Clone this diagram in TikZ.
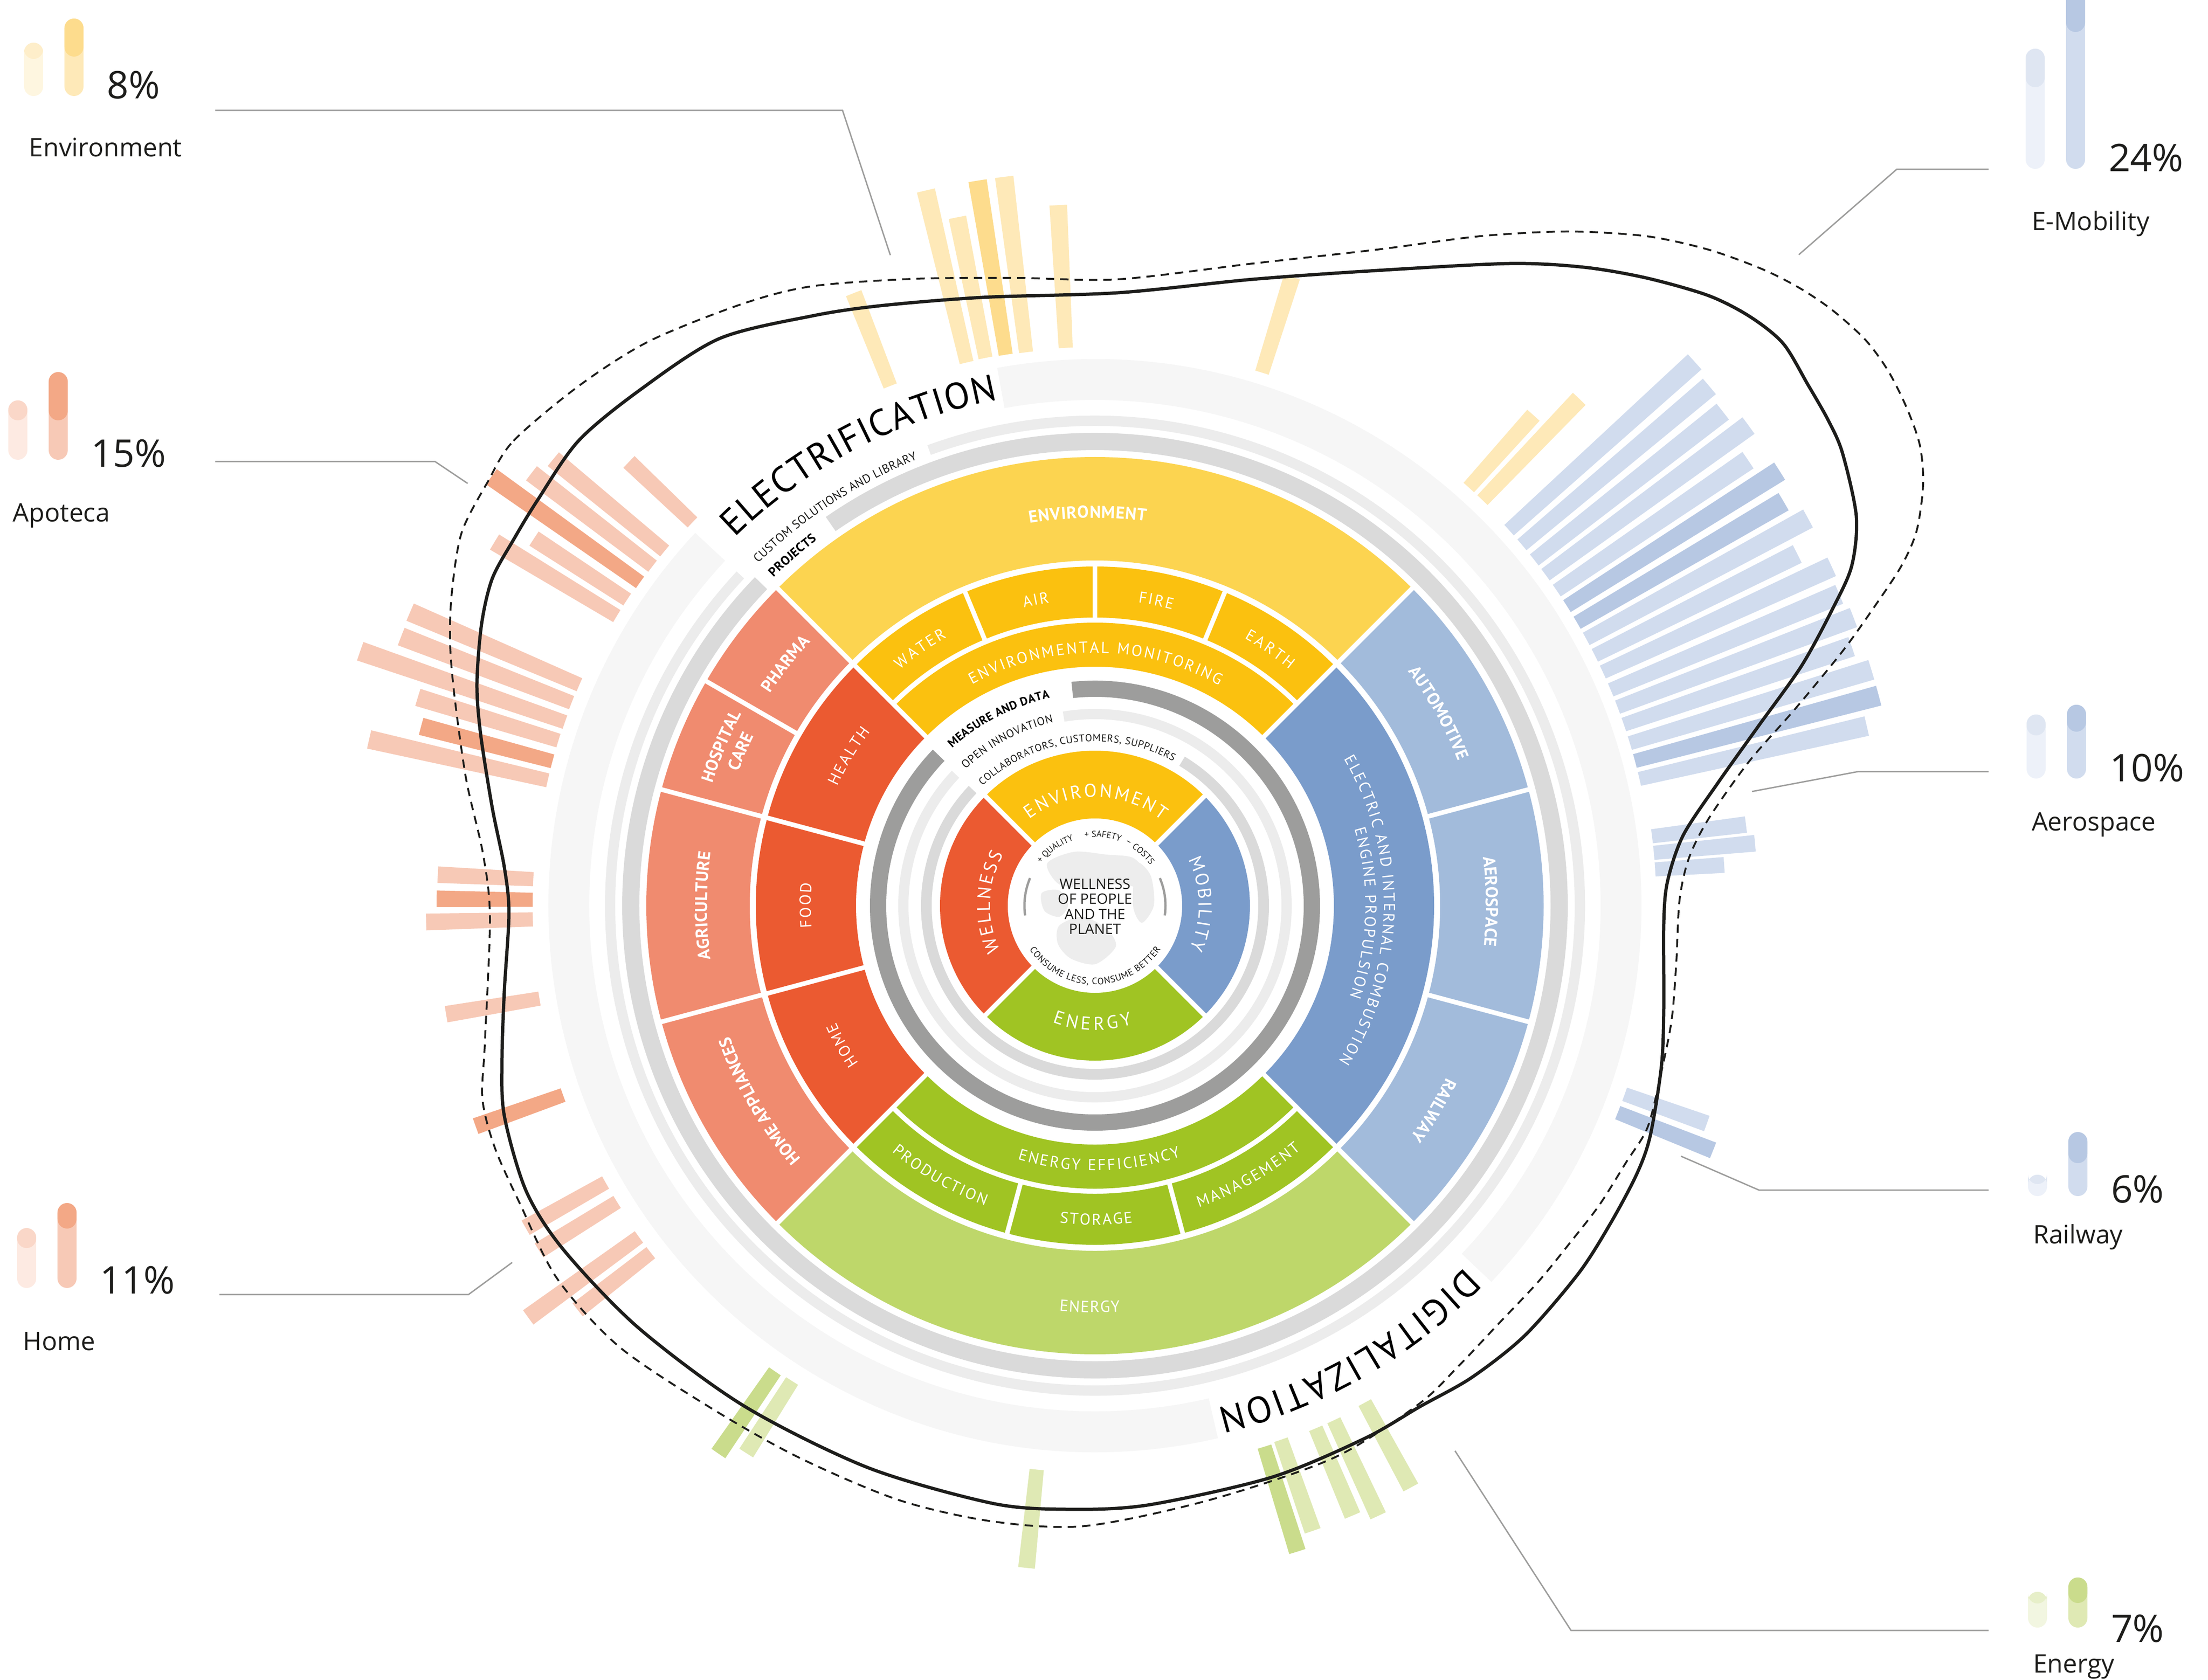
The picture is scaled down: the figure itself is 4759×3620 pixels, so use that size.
\documentclass[tikz,border=0pt]{standalone}
\usepackage{fontspec}
\setmainfont{Open Sans}
\newfontfamily\pts{PT Sans}
\usetikzlibrary{decorations.text}
\definecolor{cYel}{HTML}{FBC10F}
\definecolor{cYelL}{HTML}{FCD450}
\definecolor{cRed}{HTML}{EB5A31}
\definecolor{cRedL}{HTML}{F08B6F}
\definecolor{cBlu}{HTML}{7A9CCB}
\definecolor{cBluL}{HTML}{A2BBDB}
\definecolor{cGrn}{HTML}{A0C423}
\definecolor{cGrnL}{HTML}{BED76A}
\definecolor{gA}{HTML}{F6F6F6}
\definecolor{gB}{HTML}{DADADA}
\definecolor{gC}{HTML}{ECECEC}
\definecolor{gD}{HTML}{9D9D9C}
\definecolor{txt}{HTML}{1D1D1B}
\definecolor{globe}{HTML}{EDEDED}
\definecolor{barY}{HTML}{FEE9B8}
\definecolor{barYd}{HTML}{FDDC8D}
\definecolor{barB}{HTML}{D1DCEE}
\definecolor{barBd}{HTML}{B7C8E3}
\definecolor{barS}{HTML}{F7C9B6}
\definecolor{barSd}{HTML}{F3A886}
\definecolor{barG}{HTML}{DFE9B4}
\definecolor{barGd}{HTML}{CADC8C}
\definecolor{lgYa}{HTML}{FEF6E0}
\definecolor{lgYb}{HTML}{FEEECA}
\definecolor{lgSa}{HTML}{FDEAE2}
\definecolor{lgSb}{HTML}{FAD7C8}
\definecolor{lgBa}{HTML}{EDF1F9}
\definecolor{lgBb}{HTML}{DFE6F2}
\definecolor{lgGa}{HTML}{F2F6E1}
\definecolor{lgGb}{HTML}{E7EFC9}
\newcommand\fInner{\pts\fontsize{4.0}{5}\selectfont}
\newcommand\fMid{\pts\fontsize{3.4}{4}\selectfont}
\newcommand\fOutB{\pts\bfseries\fontsize{3.7}{4}\selectfont}
\newcommand\fOutR{\pts\fontsize{3.5}{4}\selectfont}
\newcommand\fRingB{\pts\bfseries\fontsize{2.55}{3}\selectfont}
\newcommand\fOpen{\pts\fontsize{2.45}{3}\selectfont}
\newcommand\fColl{\pts\fontsize{2.2}{3}\selectfont}
\newcommand\fProj{\pts\bfseries\fontsize{2.75}{3}\selectfont}
\newcommand\fCust{\pts\fontsize{2.6}{3}\selectfont}
\newcommand\fBig{\pts\fontsize{8.0}{9}\selectfont}
\newcommand\fTiny{\pts\fontsize{1.9}{2.5}\selectfont}
\newcommand\fCons{\pts\fontsize{2.0}{2.5}\selectfont}
\newcommand\lgPct{\fontsize{8.2}{9}\selectfont}
\newcommand\lgLab{\fontsize{5.5}{6.5}\selectfont}
\newcommand\ringsector[5]{\fill[#5] (#1:#3) arc[start angle=#1,end angle=#2,radius=#3] -- (#2:#4) arc[start angle=#2,end angle=#1,radius=#4] -- cycle;}
\newcommand\raybar[4]{\pgfmathsetmacro\rbA{#1-0.72}\pgfmathsetmacro\rbB{#1+0.72}\ringsector{\rbA}{\rbB}{#2}{#3}{#4}}
\newcommand\cutline[3]{\draw[white,line width=1pt] (#1:#2) -- (#1:#3);}
\newcommand\arclabel[6]{\pgfmathsetmacro\alC{(#2+#3)/2}\pgfmathsetmacro\alS{\alC-(#3-#2)*0.8}\pgfmathsetmacro\alE{\alC+(#3-#2)*0.8}\path[decorate,decoration={text along path,text align=center,text color=#4,text={|#5|#6}}] (\alS:#1) arc[start angle=\alS,end angle=\alE,radius=#1];}
\newcommand\capsule[6]{\fill[#5,rounded corners=2.05pt] (#1,#2) rectangle ++(41,-#3); \fill[#6,rounded corners=2.05pt] (#1,#2-#3) rectangle ++(41,#4);}
\tikzset{leader/.style={draw=gD,line width=0.3pt},
  pct/.style={anchor=base west,inner sep=0pt,text=txt,font=\lgPct},
  lab/.style={anchor=base west,inner sep=0pt,text=txt,font=\lgLab}}
\begin{document}
\begin{tikzpicture}[x=0.1pt,y=0.1pt]
\useasboundingbox (-2360,-1668) rectangle (2399,1952);
\fill[white] (-2360,-1668) rectangle (2399,1952);
% ---------- radial bars ----------
\raybar{111.5}{1204}{1419}{barY}
\raybar{103.3}{1203}{1584}{barY}
\raybar{101.3}{1204}{1513}{barY}
\raybar{99.2}{1203}{1583}{barYd}
\raybar{97.1}{1202}{1583}{barY}
\raybar{93.0}{1204}{1512}{barY}
\raybar{72.6}{1204}{1420}{barY}
\raybar{48.2}{1209}{1418}{barY}
\raybar{46.3}{1209}{1511}{barY}
\raybar{42.2}{1205}{1745}{barB}
\raybar{40.2}{1205}{1734}{barB}
\raybar{38.2}{1205}{1722}{barB}
\raybar{36.3}{1205}{1748}{barB}
\raybar{34.3}{1205}{1704}{barB}
\raybar{32.4}{1205}{1748}{barBd}
\raybar{30.4}{1205}{1721}{barBd}
\raybar{28.5}{1205}{1749}{barB}
\raybar{26.6}{1205}{1693}{barB}
\raybar{24.7}{1205}{1748}{barB}
\raybar{22.7}{1205}{1739}{barB}
\raybar{20.8}{1205}{1749}{barB}
\raybar{18.9}{1205}{1724}{barB}
\raybar{16.9}{1205}{1749}{barB}
\raybar{15.0}{1205}{1749}{barBd}
\raybar{13.1}{1205}{1708}{barB}
\raybar{7.1}{1210}{1414}{barB}
\raybar{5.4}{1210}{1429}{barB}
\raybar{3.7}{1210}{1359}{barB}
\raybar{-19.6}{1212}{1400}{barB}
\raybar{-21.6}{1212}{1433}{barBd}
\raybar{136.4}{1198}{1387}{barS}
\raybar{140.5}{1202}{1513}{barS}
\raybar{142.5}{1202}{1531}{barS}
\raybar{144.6}{1203}{1596}{barSd}
\raybar{146.8}{1205}{1445}{barS}
\raybar{148.8}{1205}{1513}{barS}
\raybar{156.8}{1209}{1606}{barS}
\raybar{158.8}{1210}{1604}{barS}
\raybar{160.9}{1209}{1676}{barS}
\raybar{162.9}{1210}{1527}{barS}
\raybar{165.1}{1210}{1503}{barSd}
\raybar{167.1}{1210}{1605}{barS}
\raybar{177.3}{1212}{1418}{barS}
\raybar{179.4}{1212}{1419}{barSd}
\raybar{181.4}{1212}{1442}{barS}
\raybar{189.5}{1214}{1418}{barS}
\raybar{199.6}{1217}{1417}{barSd}
\raybar{209.5}{1212}{1410}{barS}
\raybar{211.8}{1212}{1410}{barS}
\raybar{216.0}{1215}{1510}{barS}
\raybar{218.0}{1215}{1415}{barS}
\raybar{235.5}{1218}{1433}{barGd}
\raybar{237.5}{1215}{1399}{barG}
\raybar{264.1}{1222}{1435}{barG}
\raybar{287.4}{1222}{1459}{barGd}
\raybar{289.2}{1219}{1427}{barG}
\raybar{292.9}{1223}{1427}{barG}
\raybar{294.9}{1223}{1450}{barG}
\raybar{298.5}{1219}{1427}{barG}
% ---------- outer grey rings ----------
\ringsector{137}{283}{1090}{1178}{gA}
\ringsector{-43.5}{100.3}{1090}{1178}{gA}
\ringsector{-223}{110}{1034}{1056}{gC}
\ringsector{-224}{124.7}{982}{1019}{gB}
% ---------- outer band ----------
\ringsector{45}{135}{744}{967}{cYelL}
\ringsector{135}{225}{744}{967}{cRedL}
\ringsector{-45}{45}{744}{967}{cBluL}
\ringsector{225}{315}{744}{967}{cGrnL}
\foreach \a in {45,135,225,315,150,165,195,15,-15} {\cutline{\a}{738}{973}}
% ---------- middle band ----------
\ringsector{135}{225}{515}{731}{cRed}
\ringsector{-45}{45}{515}{731}{cBlu}
\ringsector{45}{135}{515}{610}{cYel}
\ringsector{45}{135}{621}{731}{cYel}
\ringsector{225}{315}{515}{610}{cGrn}
\ringsector{225}{315}{621}{731}{cGrn}
\foreach \a in {45,135,225,315,165,195} {\cutline{\a}{509}{737}}
\foreach \a in {67.5,90,112.5,255,285} {\cutline{\a}{616}{737}}
% ---------- inner rings ----------
\ringsector{-223.9}{96}{450}{485}{gD}
\ringsector{-223.3}{99.4}{402}{424}{gC}
\ringsector{-223.5}{58.9}{352}{375}{gB}
% ---------- inner band ----------
\ringsector{45}{135}{188}{334}{cYel}
\ringsector{-45}{45}{188}{334}{cBlu}
\ringsector{225}{315}{188}{334}{cGrn}
\ringsector{135}{225}{188}{334}{cRed}
\foreach \a in {45,135,225,315} {\cutline{\a}{180}{340}}
% ---------- globe ----------
\fill[globe] plot[smooth cycle] coordinates {(-103,91) (-45,116) (25,110) (82,103) (114,65) (101,40) (51,46) (-13,40) (-77,46)};
\fill[globe] plot[smooth cycle] coordinates {(-115,27) (-77,33) (-58,1) (-77,-24) (-109,-11)};
\fill[globe] plot[smooth cycle] coordinates {(-77,-43) (-26,-24) (25,-50) (45,-88) (1,-126) (-52,-114) (-80,-82)};
\fill[globe] plot[smooth cycle] coordinates {(89,91) (120,65) (127,1) (101,-37) (82,1)};
\draw[gD,line width=0.5pt] (157:152) arc[start angle=157,end angle=188,radius=152];
\draw[gD,line width=0.5pt] (-8:152) arc[start angle=-8,end angle=23,radius=152];
\node[align=center,inner sep=0pt,text=txt,font=\fontsize{3.1}{3.25}\selectfont] (core) at (0,-2) {WELLNESS\\OF PEOPLE\\AND THE\\PLANET};
% ---------- labels ----------
\arclabel{148}{143}{107}{txt}{\fTiny}{+ QUALITY}
\arclabel{148}{100}{67}{txt}{\fTiny}{+ SAFETY}
\node[rotate=-28,inner sep=0pt,text=txt,font=\fTiny] (costdash) at (62:153) {–};
\arclabel{148}{58}{36}{txt}{\fTiny}{COSTS}
\arclabel{170}{213}{327}{txt}{\fCons\kern0.1pt}{CONSUME LESS, CONSUME BETTER}
\arclabel{234}{129.4}{50.6}{white}{\fInner\kern0.45pt}{ENVIRONMENT}
\arclabel{224}{27}{-24}{white}{\fInner\kern0.4pt}{MOBILITY}
\arclabel{268}{247}{289}{white}{\fInner\kern0.7pt}{ENERGY}
\arclabel{226}{206}{151}{white}{\fInner\kern0.4pt}{WELLNESS}
\arclabel{354}{134.6}{60.2}{txt}{\fColl\kern0.08pt}{COLLABORATORS, CUSTOMERS, SUPPLIERS}
\arclabel{405}{134.3}{102}{txt}{\fOpen\kern0.08pt}{OPEN INNOVATION}
\arclabel{458}{134}{100.5}{black}{\fRingB\kern0.06pt}{MEASURE AND DATA}
\arclabel{545}{120}{60}{white}{\fMid\kern0.38pt}{ENVIRONMENTAL MONITORING}
\arclabel{660}{130.2}{118.6}{white}{\fMid\kern0.45pt}{WATER}
\arclabel{660}{103.6}{98.5}{white}{\fMid\kern0.3pt}{AIR}
\arclabel{660}{82.1}{75.4}{white}{\fMid\kern0.3pt}{FIRE}
\arclabel{660}{61.2}{50.5}{white}{\fMid\kern0.45pt}{EARTH}
\arclabel{612}{155.4}{142.3}{white}{\fMid\kern0.35pt}{HEALTH}
\arclabel{612}{185}{175.2}{white}{\fMid\kern0.35pt}{FOOD}
\arclabel{612}{213.9}{204.3}{white}{\fMid\kern0.35pt}{HOME}
\arclabel{623}{31}{-32.7}{white}{\fMid\kern0.31pt}{ELECTRIC AND INTERNAL COMBUSTION}
\arclabel{583}{17}{-19.9}{white}{\fMid\kern0.32pt}{ENGINE PROPULSION}
\arclabel{571}{252.6}{289}{white}{\fMid\kern0.36pt}{ENERGY EFFICIENCY}
\arclabel{688}{230}{250.1}{white}{\fMid\kern0.36pt}{PRODUCTION}
\arclabel{688}{263.3}{276.9}{white}{\fMid\kern0.31pt}{STORAGE}
\arclabel{688}{288.3}{310.6}{white}{\fMid\kern0.44pt}{MANAGEMENT}
\arclabel{836}{100.5}{81.6}{white}{\fOutB\kern0.1pt}{ENVIRONMENT}
\arclabel{843}{37.7}{20.9}{white}{\fOutB\kern0.05pt}{AUTOMOTIVE}
\arclabel{843}{7.6}{-6.4}{white}{\fOutB}{AEROSPACE}
\arclabel{843}{-25.8}{-36.5}{white}{\fOutB}{RAILWAY}
\arclabel{836}{147.4}{136.6}{white}{\fOutB}{PHARMA}
\arclabel{866}{162.9}{150.9}{white}{\fOutB}{HOSPITAL}
\arclabel{821}{159.4}{153.5}{white}{\fOutB}{CARE}
\arclabel{836}{188.6}{171.4}{white}{\fOutB\kern0.05pt}{AGRICULTURE}
\arclabel{836}{222}{198.4}{white}{\fOutB}{HOME APPLIANCES}
\arclabel{877}{264.8}{273.6}{white}{\fOutR\kern0.17pt}{ENERGY}
\arclabel{990}{134.6}{127}{black}{\fProj\kern0.05pt}{PROJECTS}
\arclabel{1035}{134.6}{111.6}{txt}{\fCust\kern0.05pt}{CUSTOM SOLUTIONS AND LIBRARY}
\arclabel{1110}{134.5}{100.8}{black}{\fBig\kern0.2pt}{ELECTRIFICATION}
\arclabel{1115}{-44}{-76.5}{black}{\fBig\kern0.4pt}{DIGITALIZATION}
% ---------- curves, leaders, legends (image coordinates) ----------
\begin{scope}[shift={(-2360,1952)},yscale=-1]
\draw[txt,line width=0.7pt] plot[smooth cycle] coordinates {(1158,1079) (1247,950) (1380,840) (1550,730) (1750,681) (1897,659) (2117,641) (2410,631) (2700,602) (2968,583) (3254,568) (3414,576) (3548,599) (3682,637) (3771,682) (3843,740) (3896,828) (3940,905) (3971,976) (4001,1113) (3991,1220) (3950,1312) (3883,1435) (3790,1565) (3703,1687) (3628,1800) (3594,1900) (3586,1990) (3586,2173) (3581,2297) (3557,2447) (3528,2530) (3471,2637) (3402,2745) (3287,2878) (3172,2969) (3060,3032) (2942,3100) (2741,3184) (2473,3244) (2299,3253) (2138,3240) (1870,3163) (1603,3030) (1375,2861) (1214,2693) (1134,2567) (1087,2405) (1082,2284) (1087,2136) (1097,1968) (1087,1869) (1061,1741) (1036,1583) (1028,1474) (1038,1345) (1061,1247) (1107,1163)};
\draw[txt,line width=0.4pt,dash pattern=on 1.8pt off 1.3pt] plot[smooth cycle] coordinates {(1051,1039) (1107,950) (1250,830) (1400,735) (1600,655) (1750,617) (1970,601) (2190,599) (2410,602) (2700,568) (2968,538) (3191,509) (3379,499) (3548,509) (3682,538) (3798,580) (3879,621) (3950,669) (4021,733) (4070,800) (4110,880) (4138,960) (4145,1044) (4131,1144) (4098,1220) (4037,1312) (3971,1404) (3870,1527) (3770,1641) (3683,1764) (3640,1850) (3620,1940) (3613,2074) (3603,2198) (3580,2314) (3551,2430) (3505,2505) (3448,2596) (3390,2671) (3316,2762) (3230,2853) (3144,2944) (3057,3027) (2875,3142) (2607,3233) (2339,3289) (2138,3279) (1937,3233) (1723,3142) (1536,3037) (1335,2903) (1201,2756) (1121,2595) (1067,2475) (1040,2370) (1045,2250) (1056,1978) (1041,1840) (1005,1681) (980,1504) (970,1385) (974,1276) (995,1148)};
% leaders
\coordinate (envA) at (464,238); \coordinate (envB) at (1816,238); \coordinate (envC) at (1919,550);
\coordinate (apoA) at (464,995); \coordinate (apoB) at (938,995); \coordinate (apoC) at (1008,1042);
\coordinate (homA) at (473,2790); \coordinate (homB) at (1010,2790); \coordinate (homC) at (1104,2721);
\coordinate (emoA) at (4286,365); \coordinate (emoB) at (4088,365); \coordinate (emoC) at (3877,549);
\coordinate (aerA) at (4286,1663); \coordinate (aerB) at (4005,1663); \coordinate (aerC) at (3776,1706);
\coordinate (raiA) at (4286,2565); \coordinate (raiB) at (3791,2565); \coordinate (raiC) at (3623,2492);
\coordinate (eneA) at (4286,3514); \coordinate (eneB) at (3386,3514); \coordinate (eneC) at (3136,3127);
\draw[leader] (envA) -- (envB) -- (envC);
\draw[leader] (apoA) -- (apoB) -- (apoC);
\draw[leader] (homA) -- (homB) -- (homC);
\draw[leader] (emoA) -- (emoB) -- (emoC);
\draw[leader] (aerA) -- (aerB) -- (aerC);
\draw[leader] (raiA) -- (raiB) -- (raiC);
\draw[leader] (eneA) -- (eneB) -- (eneC);
% legends
\capsule{52}{207}{115}{35}{lgYa}{lgYb}
\capsule{139}{207}{167}{82}{barY}{barYd}
\node[pct] (envPct) at (229,213) {8\%};
\node[lab] (envLab) at (61,338) {Environment};
\capsule{18}{991}{128}{43}{lgSa}{lgSb}
\capsule{105}{991}{189}{104}{barS}{barSd}
\node[pct] (apoPct) at (195,1007) {15\%};
\node[lab] (apoLab) at (26,1125) {Apoteca};
\capsule{37}{2776}{129}{43}{lgSa}{lgSb}
\capsule{124}{2776}{183}{55}{barS}{barSd}
\node[pct] (homPct) at (214,2788) {11\%};
\node[lab] (homLab) at (48,2910) {Home};
\capsule{4366}{364}{259}{83}{lgBa}{lgBb}
\capsule{4453}{364}{420}{125}{barB}{barBd}
\node[pct] (emoPct) at (4543,370) {24\%};
\node[lab] (emoLab) at (4377,497) {E-Mobility};
\capsule{4368}{1678}{138}{45}{lgBa}{lgBb}
\capsule{4455}{1678}{159}{58}{barB}{barBd}
\node[pct] (aerPct) at (4545,1684) {10\%};
\node[lab] (aerLab) at (4377,1790) {Aerospace};
\capsule{4371}{2578}{46}{20}{lgBa}{lgBb}
\capsule{4458}{2578}{138}{67}{barB}{barBd}
\node[pct] (raiPct) at (4548,2592) {6\%};
\node[lab] (raiLab) at (4380,2680) {Railway};
\capsule{4371}{3508}{77}{25}{lgGa}{lgGb}
\capsule{4458}{3508}{108}{55}{barG}{barGd}
\node[pct] (enePct) at (4548,3539) {7\%};
\node[lab] (eneLab) at (4380,3605) {Energy};
\end{scope}
\end{tikzpicture}
\end{document}
